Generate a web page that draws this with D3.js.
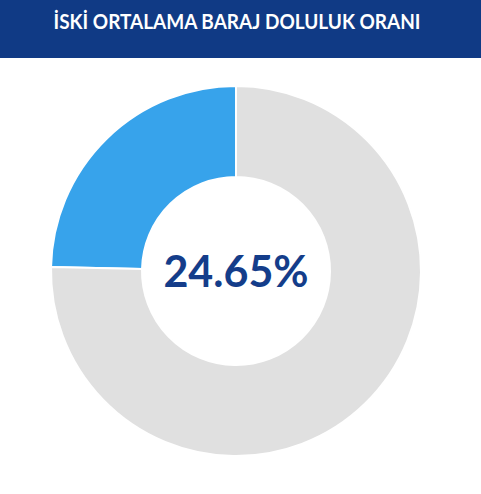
<!DOCTYPE html>
<html>
<head>
<meta charset="utf-8">
<script src="https://cdn.jsdelivr.net/npm/d3@7"></script>
<style>
  body { margin: 0; background: #fff; }
  svg { display: block; }
</style>
</head>
<body>
<div id="view"></div>
<script>
const title = 'İSKİ ORTALAMA BARAJ DOLULUK ORANI';
const labels = ['Dolu', 'Boş'];
const values = [24.65, 75.35];
const colors = ['#37a3eb', '#e0e0e0'];

const width = 481;
const height = 494;

const svg = d3.select('#view')
    .append('svg')
        .attr('width', width)
        .attr('height', height);

// header bar
svg.append('rect')
    .attr('width', width)
    .attr('height', 58)
    .attr('fill', '#103a85');

svg.append('text')
    .attr('x', 237)
    .attr('y', 29)
    .attr('text-anchor', 'middle')
    .attr('font-family', 'Lato, sans-serif')
    .attr('font-weight', 'bold')
    .attr('font-size', 21)
    .attr('textLength', 367)
    .attr('lengthAdjust', 'spacingAndGlyphs')
    .attr('fill', '#fff')
    .text(title);

// donut
const g = svg.append('g')
    .attr('transform', 'translate(236,271)');

const pie = d3.pie()
    .sort(null)
    .startAngle(0)
    .endAngle(-2 * Math.PI)
    .value(d => d);

const arc = d3.arc()
    .innerRadius(94)
    .outerRadius(185);

g.selectAll('path')
    .data(pie(values))
    .join('path')
        .attr('d', arc)
        .attr('fill', (d, i) => colors[i])
        .attr('stroke', '#fff')
        .attr('stroke-width', 2);

g.append('text')
    .attr('y', 16)
    .attr('text-anchor', 'middle')
    .attr('font-family', 'Lato, sans-serif')
    .attr('font-weight', 'bold')
    .attr('font-size', 43)
    .attr('fill', '#143d8a')
    .text(d3.format('.2f')(values[0]) + '%');
</script>
</body>
</html>
